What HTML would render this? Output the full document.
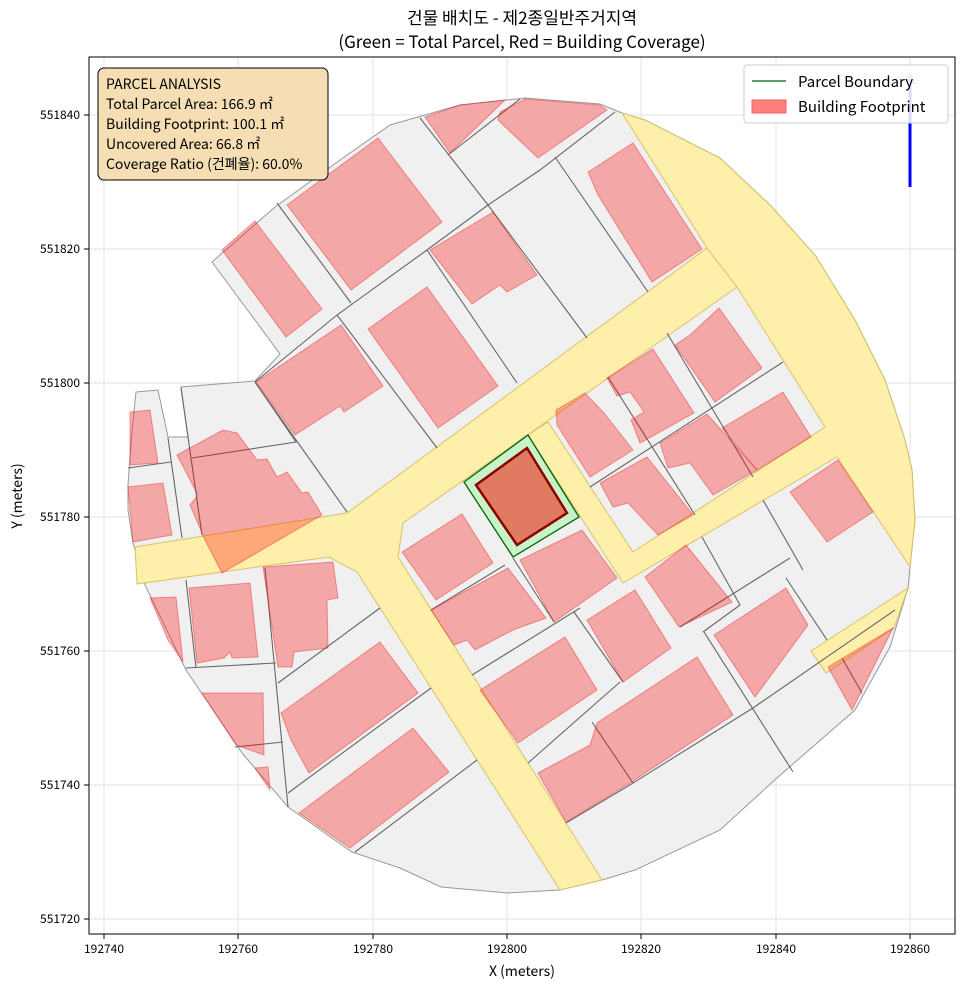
<!DOCTYPE html>
<html><head><meta charset="utf-8"><style>
body{margin:0;background:#fff;}
svg text{font-family:"Noto Sans CJK KR","Liberation Sans",sans-serif;}
</style></head><body>
<svg width="964" height="990" viewBox="0 0 964 990" xmlns="http://www.w3.org/2000/svg">
<rect width="964" height="990" fill="#fff"/>
<text x="522" y="24" font-size="17" text-anchor="middle" fill="#000">건물 배치도 - 제2종일반주거지역</text>
<text x="522" y="48" font-size="17" text-anchor="middle" fill="#000">(Green = Total Parcel, Red = Building Coverage)</text>
<g stroke="#e3e3e3" stroke-width="1">
<line x1="104" y1="57" x2="104" y2="934"/><line x1="238" y1="57" x2="238" y2="934"/><line x1="373" y1="57" x2="373" y2="934"/><line x1="507" y1="57" x2="507" y2="934"/><line x1="641" y1="57" x2="641" y2="934"/><line x1="776" y1="57" x2="776" y2="934"/><line x1="910" y1="57" x2="910" y2="934"/>
<line x1="89" y1="115" x2="955" y2="115"/><line x1="89" y1="249" x2="955" y2="249"/><line x1="89" y1="383" x2="955" y2="383"/><line x1="89" y1="517" x2="955" y2="517"/><line x1="89" y1="651" x2="955" y2="651"/><line x1="89" y1="785" x2="955" y2="785"/><line x1="89" y1="919" x2="955" y2="919"/>
</g>
<polygon fill="#f0f0f0" stroke="#999" stroke-width="1" points="212,262 275,207 340,160 390,125 425,115 460,105 525,98 600,104 622,113 645,120 720,158 770,205 815,255 855,320 885,380 905,440 912,470 915,520 910,567 908,588 890,647 855,710 778,777 720,830 635,870 602,880 559,890 508,893 441,887 400,868 352,852 288,807 242,753 186,670 145,585 133,543 128,510 128,485 132,430 136,392 158,390 168,437 188,437 181,387 255,381 280,354"/>
<g fill="#fff0a8" stroke="#d8c060" stroke-width="1" opacity="0.95">
<polygon points="135,547 347,513 707,248 737,287 403,523 398,557 602,880 560,890 357,572 329,557 137,584"/>
<polygon points="528,435 548,422 633,552 825,427 737,287 707,248 622,113 645,120 720,158 770,205 815,255 855,320 885,380 905,440 912,470 915,520 910,567 837,457 623,583"/>
<polygon points="908,588 894,628 826,673 811,651"/>
</g>
<g stroke="#666" stroke-width="1.1" fill="none">
<polyline points="277,203 351,303"/><polyline points="337,315 437,448"/><polyline points="255,382 347,512"/>
<polyline points="192,458 296,442 255,382"/><polyline points="181,388 202,535"/><polyline points="168,438 182,538"/>
<polyline points="128,468 171,462"/><polyline points="427,250 517,383"/>
<polyline points="255,382 337,315 427,250 488,205 540,170 615,112"/>
<polyline points="420,118 488,205"/><polyline points="448,155 520,99"/>
<polyline points="488,205 587,338"/><polyline points="555,157 648,292"/>
<polyline points="667,333 753,477"/><polyline points="608,377 695,515"/><polyline points="590,487 783,362"/>
<polyline points="763,500 803,570"/><polyline points="513,558 554,622"/><polyline points="431,610 505,565"/>
<polyline points="472,675 580,608"/><polyline points="680,627 790,558"/><polyline points="703,632 740,605"/>
<polyline points="288,793 431,688"/><polyline points="278,683 380,608"/><polyline points="355,852 477,760"/>
<polyline points="528,763 620,682"/><polyline points="566,823 633,783 753,708 895,610"/>
<polyline points="574,612 623,682"/><polyline points="702,537 740,605"/><polyline points="704,632 793,772"/>
<polyline points="786,578 827,640"/><polyline points="592,722 633,783"/><polyline points="842,658 862,693"/>
<polyline points="186,580 196,668"/><polyline points="265,568 288,807"/><polyline points="186,668 276,663"/><polyline points="235,747 283,742"/>
</g>
<g fill="rgba(255,0,0,0.3)" stroke="rgba(230,40,40,0.45)" stroke-width="1">
<polygon points="222,250 255,221 322,309 286,337"/>
<polygon points="287,205 378,138 442,222 351,290"/>
<polygon points="368,329 427,287 498,386 438,428"/>
<polygon points="256,382 341,325 383,386 344,412 340,406 295,435"/>
<polygon points="430,250 493,212 537,275 507,292 500,285 472,304"/>
<polygon points="425,117 460,105 505,100 450,153"/>
<polygon points="498,120 500,112 525,99 600,105 607,110 538,158"/>
<polygon points="588,172 633,143 702,249 652,282 598,195"/>
<polygon points="675,345 690,335 719,308 762,368 715,402"/>
<polygon points="607,378 653,349 694,413 640,443 631,420 644,412 630,392 617,396"/>
<polygon points="556,410 585,393 604,413 633,450 590,477 557,425"/>
<polygon points="660,443 707,414 757,470 713,495 690,463 668,468"/>
<polygon points="722,428 783,392 811,437 757,470"/>
<polygon points="600,483 647,457 693,515 658,535 628,503 613,507"/>
<polygon points="790,492 838,460 873,512 827,542"/>
<polygon points="402,552 462,514 493,563 436,600"/>
<polygon points="431,610 508,568 546,618 513,630 475,650 467,640 454,645"/>
<polygon points="520,560 582,530 617,578 554,622"/>
<polygon points="587,620 635,590 671,648 623,682"/>
<polygon points="645,577 686,545 732,602 679,627"/>
<polygon points="714,635 786,588 808,625 755,697"/>
<polygon points="828,667 893,628 862,690 852,710"/>
<polygon points="480,690 565,637 597,690 518,743"/>
<polygon points="538,773 590,745 597,723 697,657 733,715 630,783 566,822"/>
<polygon points="281,713 380,642 418,693 309,773 291,740"/>
<polygon points="299,813 413,728 449,772 350,848"/>
<polygon points="202,693 263,693 264,755 236,745"/>
<polygon points="150,598 176,597 183,662 168,640"/>
<polygon points="189,588 250,583 258,657 232,658 230,652 224,658 197,663"/>
<polygon points="263,567 333,562 338,598 327,600 328,648 294,652 292,667 278,667"/>
<polygon points="255,768 268,767 270,790"/>
<polygon points="130,412 150,410 158,463 130,465"/>
<polygon points="128,487 163,483 172,535 133,542"/>
<polygon points="177,455 223,430 237,433 257,460 267,459 277,477 287,472 302,493 308,492 322,515 222,573 205,540 190,505 198,495"/>
</g>
<polygon points="464,482 528,435 579,517 513,557" fill="#c8f2c8" stroke="#006400" stroke-width="1.3"/>
<polygon points="476,485 527,448 567,513 517,545" fill="#e07b62" stroke="#8b0000" stroke-width="2.5"/>
<line x1="910" y1="187" x2="910" y2="80" stroke="#0000ff" stroke-width="3"/>
<polygon points="904,84 910,72 916,84" fill="#8080ff"/>
<rect x="89" y="57" width="866" height="877" fill="none" stroke="#000" stroke-width="1"/>
<g stroke="#000" stroke-width="1">
<line x1="104" y1="934" x2="104" y2="939"/><line x1="238" y1="934" x2="238" y2="939"/><line x1="373" y1="934" x2="373" y2="939"/><line x1="507" y1="934" x2="507" y2="939"/><line x1="641" y1="934" x2="641" y2="939"/><line x1="776" y1="934" x2="776" y2="939"/><line x1="910" y1="934" x2="910" y2="939"/>
<line x1="84" y1="115" x2="89" y2="115"/><line x1="84" y1="249" x2="89" y2="249"/><line x1="84" y1="383" x2="89" y2="383"/><line x1="84" y1="517" x2="89" y2="517"/><line x1="84" y1="651" x2="89" y2="651"/><line x1="84" y1="785" x2="89" y2="785"/><line x1="84" y1="919" x2="89" y2="919"/>
</g>
<g font-size="12" fill="#000" text-anchor="middle">
<text x="104" y="953">192740</text><text x="238" y="953">192760</text><text x="373" y="953">192780</text><text x="507" y="953">192800</text><text x="641" y="953">192820</text><text x="776" y="953">192840</text><text x="910" y="953">192860</text>
</g>
<g font-size="12" fill="#000" text-anchor="end">
<text x="80" y="119">551840</text><text x="80" y="253">551820</text><text x="80" y="387">551800</text><text x="80" y="521">551780</text><text x="80" y="655">551760</text><text x="80" y="789">551740</text><text x="80" y="923">551720</text>
</g>
<text x="522" y="976" font-size="14" text-anchor="middle">X (meters)</text>
<text transform="translate(22,496) rotate(-90)" font-size="14" text-anchor="middle">Y (meters)</text>
<rect x="98" y="68" width="230" height="112" rx="6" fill="#f5deb3" stroke="#000" stroke-width="1"/>
<g font-size="14" fill="#000">
<text x="106" y="89">PARCEL ANALYSIS</text>
<text x="106" y="109">Total Parcel Area: 166.9 ㎡</text>
<text x="106" y="129">Building Footprint: 100.1 ㎡</text>
<text x="106" y="149">Uncovered Area: 66.8 ㎡</text>
<text x="106" y="169">Coverage Ratio (건폐율): 60.0%</text>
</g>
<rect x="744" y="65" width="204" height="58" rx="3" fill="#fff" fill-opacity="0.85" stroke="#ccc"/>
<line x1="752" y1="81" x2="786" y2="81" stroke="#006400" stroke-width="1.3"/>
<text x="798" y="87" font-size="15">Parcel Boundary</text>
<rect x="752" y="100" width="34" height="13" fill="#ff7f7f" stroke="#f06060"/>
<text x="798" y="112" font-size="15">Building Footprint</text>
</svg>
</body></html>
